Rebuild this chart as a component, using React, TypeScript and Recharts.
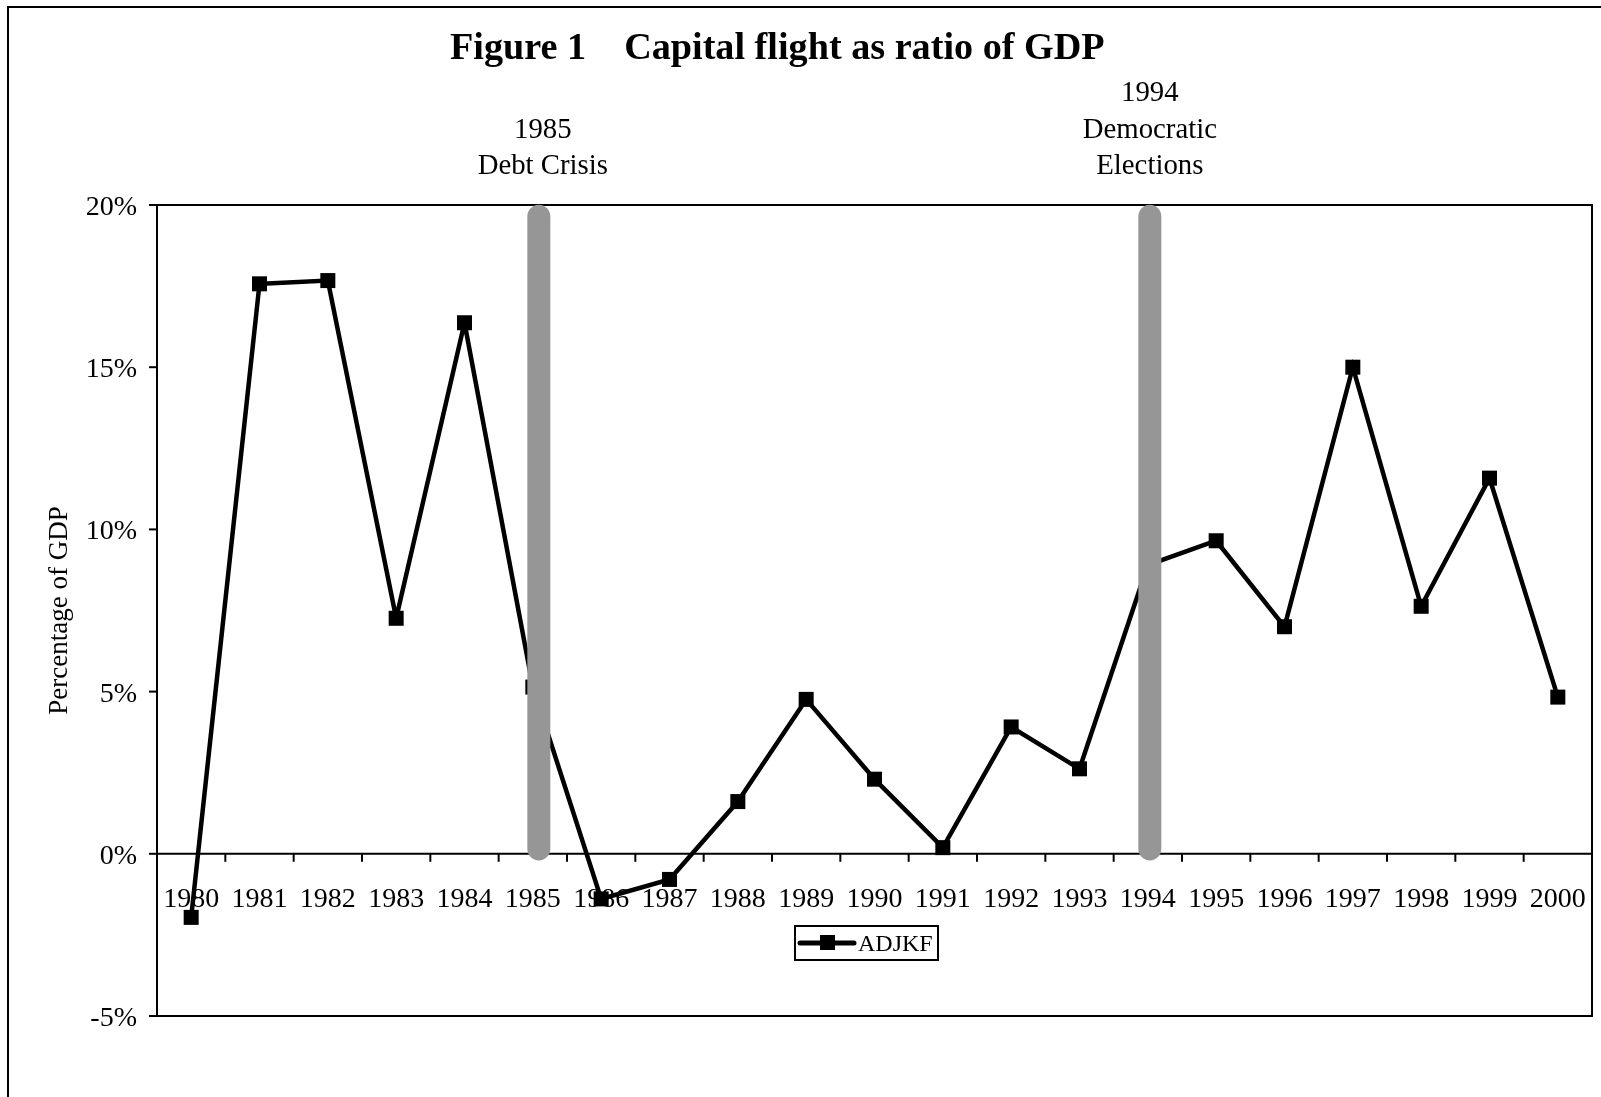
import {
  Legend,
  Line,
  LineChart,
  ReferenceLine,
  XAxis,
  YAxis,
} from "recharts";

// Capital flight (ADJKF) as % of GDP
const years = [
  "1980", "1981", "1982", "1983", "1984", "1985", "1986", "1987", "1988", "1989", "1990",
  "1991", "1992", "1993", "1994", "1995", "1996", "1997", "1998", "1999", "2000",
];
const adjkf = [
  -1.96, 17.57, 17.67, 7.26, 16.37, 5.14, -1.39, -0.79, 1.61, 4.76, 2.3,
  0.19, 3.91, 2.62, 8.9, 9.65, 7.0, 15.0, 7.63, 11.58, 4.83,
];
const yTicks = [-5, 0, 5, 10, 15, 20];
const events = [
  { year: "1985", lines: ["1985", "Debt Crisis"] },
  { year: "1994", lines: ["1994", "Democratic", "Elections"] },
];

const data = years.map((year, i) => ({ year, ADJKF: adjkf[i] }));

const FONT = '"Liberation Serif", "Times New Roman", serif';
const W = 1593;
const H = 1089;
const MARGIN = { top: 197, right: 9, bottom: 51, left: 0 };
const Y_AXIS_W = 149;
const X_AXIS_H = 30;
const Y_MIN = -5;
const Y_MAX = 20;
const PLOT_W = W - MARGIN.left - MARGIN.right - Y_AXIS_W;
const PLOT_H = H - MARGIN.top - MARGIN.bottom - X_AXIS_H;
const ZERO_Y = MARGIN.top + (PLOT_H * Y_MAX) / (Y_MAX - Y_MIN);
const BAND = PLOT_W / years.length;
// hand-placed markers in the original sit a little right of the year centre
const EVENT_NUDGE: Record<string, { bar: number; text: number }> = {
  "1985": { bar: 6, text: 10 },
  "1994": { bar: 2, text: 2 },
};

// Excel-style category axis sitting on the 0% line: marks between years
function YearTick(props: any) {
  const { x, payload, index } = props;
  return (
    <g>
      {index < years.length - 1 && (
        <line
          x1={x + BAND / 2}
          x2={x + BAND / 2}
          y1={ZERO_Y}
          y2={ZERO_Y + 8}
          stroke="#000"
          strokeWidth={2}
        />
      )}
      <text
        x={x}
        y={ZERO_Y + 44}
        textAnchor="middle"
        dominantBaseline="central"
        fontFamily={FONT}
        fontSize={28}
        fill="#000"
      >
        {payload.value}
      </text>
    </g>
  );
}

function SquareDot(props: any) {
  const { cx, cy, index } = props;
  if (cx == null || cy == null) return null;
  return <rect key={index} x={cx - 7.5} y={cy - 7.5} width={15} height={15} fill="#000" />;
}

function LegendBox({ payload }: any) {
  const name = payload?.[0]?.value ?? "ADJKF";
  return (
    <div
      style={{
        boxSizing: "border-box",
        width: 145,
        height: 36,
        border: "2px solid #000",
        background: "#fff",
        display: "flex",
        alignItems: "center",
        fontFamily: FONT,
        fontSize: 24,
        color: "#000",
      }}
    >
      <svg width={62} height={20} style={{ flex: "none" }}>
        <line x1={4} x2={58} y1={10} y2={10} stroke="#000" strokeWidth={5} strokeLinecap="round" />
        <rect x={24} y={2} width={15} height={15} fill="#000" />
      </svg>
      <span>{name}</span>
    </div>
  );
}

function YLabel({ viewBox }: any) {
  const cx = 50;
  const cy = viewBox.y + viewBox.height / 2;
  return (
    <text
      x={cx}
      y={cy}
      transform={`rotate(-90, ${cx}, ${cy})`}
      textAnchor="middle"
      dominantBaseline="central"
      fontFamily={FONT}
      fontSize={27}
      fill="#000"
    >
      Percentage of GDP
    </text>
  );
}

function barShape(nudge: number) {
  return (p: any) => (
    <line
      x1={p.x1 + nudge}
      x2={p.x2 + nudge}
      y1={p.y1}
      y2={p.y2}
      stroke="#969696"
      strokeWidth={23}
      strokeLinecap="round"
    />
  );
}

export default function App() {
  const plotLeft = MARGIN.left + Y_AXIS_W;
  return (
    <div style={{ position: "relative", width: W, height: H, fontFamily: FONT, color: "#000" }}>
      <style>{"body{overflow:hidden}"}</style>
      <div
        style={{
          position: "fixed",
          left: 7,
          top: 6,
          width: 1620,
          height: 1120,
          borderLeft: "2px solid #000",
          borderTop: "2px solid #000",
        }}
      />
      {/* plot-area frame */}
      <div
        style={{
          position: "absolute",
          boxSizing: "border-box",
          left: plotLeft - 1,
          top: MARGIN.top - 1,
          width: PLOT_W + 2,
          height: PLOT_H + 2,
          border: "2px solid #000",
          pointerEvents: "none",
        }}
      />
      <div
        style={{
          position: "absolute",
          top: 46 - 8 - 22,
          left: 442,
          whiteSpace: "nowrap",
          fontSize: 38.2,
          fontWeight: "bold",
          lineHeight: "44px",
        }}
      >
        <span>Figure 1</span>
        <span style={{ marginLeft: 38 }}>Capital flight as ratio of GDP</span>
      </div>
      {events.map((ev) => {
        const i = years.indexOf(ev.year);
        const cx = plotLeft + BAND * (i + 0.5) + EVENT_NUDGE[ev.year].text;
        const firstCenter = 164 - 8 - 36.5 * (ev.lines.length - 1);
        return (
          <div
            key={ev.year}
            style={{
              position: "absolute",
              left: cx - 150,
              width: 300,
              top: firstCenter - 18,
              textAlign: "center",
              fontSize: 28.8,
              lineHeight: "36.5px",
            }}
          >
            {ev.lines.map((t) => (
              <div key={t}>{t}</div>
            ))}
          </div>
        );
      })}
      <LineChart width={W} height={H} data={data} margin={MARGIN}>
        <ReferenceLine y={0} stroke="#000" strokeWidth={2} />
        <XAxis
          dataKey="year"
          scale="band"
          height={X_AXIS_H}
          axisLine={false}
          tickLine={false}
          interval={0}
          tick={<YearTick />}
        />
        <YAxis
          width={Y_AXIS_W}
          domain={[Y_MIN, Y_MAX]}
          ticks={yTicks}
          allowDataOverflow
          tickFormatter={(v: number) => `${v}%`}
          tick={{ fill: "#000", fontSize: 28, fontFamily: FONT }}
          tickSize={8}
          tickMargin={12}
          tickLine={{ stroke: "#000", strokeWidth: 2 }}
          axisLine={{ stroke: "#000", strokeWidth: 2 }}
          label={<YLabel />}
        />
        <Legend
          layout="vertical"
          align="center"
          verticalAlign="middle"
          content={<LegendBox />}
          wrapperStyle={{ left: 786, top: 917, width: 145 }}
        />
        <Line
          dataKey="ADJKF"
          name="ADJKF"
          stroke="#000"
          strokeWidth={4.5}
          dot={<SquareDot />}
          activeDot={false}
          isAnimationActive={false}
        />
        {events.map((ev) => (
          <ReferenceLine
            key={ev.year}
            segment={[
              { x: ev.year, y: 19.65 },
              { x: ev.year, y: 0.15 },
            ]}
            stroke="#969696"
            strokeWidth={23}
            shape={barShape(EVENT_NUDGE[ev.year].bar)}
            zIndex={2000}
          />
        ))}
      </LineChart>
    </div>
  );
}
